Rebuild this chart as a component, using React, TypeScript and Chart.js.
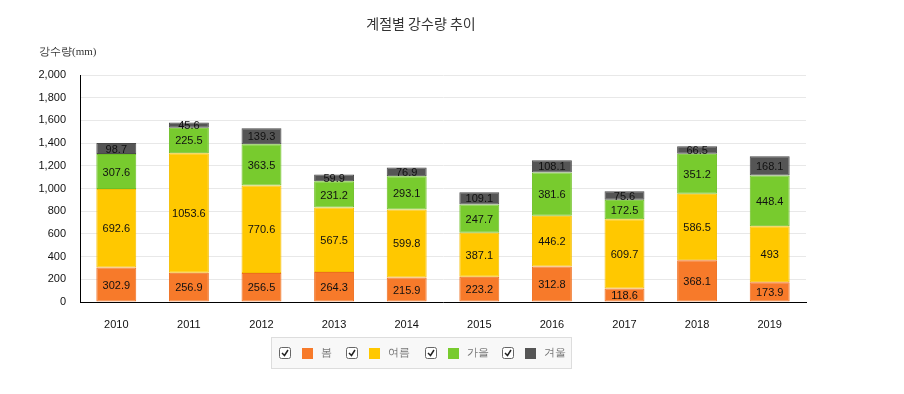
import React, { useEffect, useRef } from "react";
import { Chart, registerables } from "chart.js";

Chart.register(...registerables);

const years = ["2010", "2011", "2012", "2013", "2014", "2015", "2016", "2017", "2018", "2019"];
const spring = [302.9, 256.9, 256.5, 264.3, 215.9, 223.2, 312.8, 118.6, 368.1, 173.9];
const summer = [692.6, 1053.6, 770.6, 567.5, 599.8, 387.1, 446.2, 609.7, 586.5, 493];
const autumn = [307.6, 225.5, 363.5, 231.2, 293.1, 247.7, 381.6, 172.5, 351.2, 448.4];
const winter = [98.7, 45.6, 139.3, 59.9, 76.9, 109.1, 108.1, 75.6, 66.5, 168.1];
const seriesNames = ["봄", "여름", "가을", "겨울"];
const seriesColors = ["#F77A2A", "#FFC800", "#78CB2E", "#555555"];
const seriesBorders = ["#EE6E1E", "#F5BE00", "#6EBF26", "#4A4A4A"];

const TITLE = "계절별 강수량 추이";
const Y_TITLE = "강수량(mm)";
const SANS = "Arial, 'Liberation Sans', 'Noto Sans CJK KR', sans-serif";

const overlayPlugin = {
  id: "overlay",
  afterDatasetsDraw(chart: any) {
    const ctx = chart.ctx;
    ctx.save();
    ctx.font = "11px " + SANS;
    ctx.fillStyle = "#111";
    ctx.textAlign = "center";
    ctx.textBaseline = "middle";
    chart.data.datasets.forEach((ds: any, di: number) => {
      const meta = chart.getDatasetMeta(di);
      meta.data.forEach((bar: any, i: number) => {
        const y = (bar.y + bar.base) / 2;
        ctx.fillText(String(ds.data[i]), bar.x, y + 1);
      });
    });
    ctx.restore();
  },
  afterDraw(chart: any) {
    const ctx = chart.ctx;
    ctx.save();
    // title
    ctx.font = "14px 'Noto Sans CJK KR', sans-serif";
    ctx.fillStyle = "#333";
    ctx.textAlign = "center";
    ctx.textBaseline = "middle";
    ctx.fillText(TITLE, 421, 24);
    // y title
    ctx.font = "11px serif";
    ctx.textAlign = "left";
    ctx.fillStyle = "#333";
    ctx.fillText(Y_TITLE, 39, 52);
    // legend box
    ctx.fillStyle = "#F8F8F8";
    ctx.fillRect(271.5, 337.5, 300, 31);
    ctx.strokeStyle = "#DDDDDD";
    ctx.lineWidth = 1;
    ctx.strokeRect(271.5, 337.5, 300, 31);
    const cbX = [279, 346, 425, 502];
    const cy = 353;
    seriesNames.forEach((name, k) => {
      const x = cbX[k];
      // checkbox
      ctx.fillStyle = "#fff";
      ctx.strokeStyle = "#666";
      ctx.lineWidth = 1;
      ctx.beginPath();
      (ctx as any).roundRect(x + 0.5, cy - 5.5, 11, 11, 2);
      ctx.fill();
      ctx.stroke();
      ctx.strokeStyle = "#222";
      ctx.lineWidth = 1.5;
      ctx.beginPath();
      ctx.moveTo(x + 3, cy);
      ctx.lineTo(x + 5.5, cy + 2.5);
      ctx.lineTo(x + 9, cy - 3);
      ctx.stroke();
      // color square
      ctx.fillStyle = seriesColors[k];
      ctx.fillRect(x + 23, cy - 5, 11, 11);
      // text
      ctx.fillStyle = "#777";
      ctx.font = "11px serif";
      ctx.textAlign = "left";
      ctx.fillText(name, x + 42, cy);
    });
    ctx.restore();
  },
};

export default function App() {
  const ref = useRef<HTMLCanvasElement | null>(null);
  useEffect(() => {
    if (!ref.current) return;
    const mk = (label: string, data: number[], k: number) => ({
      label,
      data,
      backgroundColor: seriesColors[k],
      borderColor: seriesBorders[k],
      borderWidth: 1,
      borderSkipped: false,
      barPercentage: 0.55,
      categoryPercentage: 1,
    });
    const chart = new Chart(ref.current, {
      type: "bar",
      data: {
        labels: years,
        datasets: [
          mk(seriesNames[0], spring, 0),
          mk(seriesNames[1], summer, 1),
          mk(seriesNames[2], autumn, 2),
          mk(seriesNames[3], winter, 3),
        ],
      },
      options: {
        animation: false,
        responsive: false,
        maintainAspectRatio: false,
        layout: { padding: { left: 0, right: 98, top: 75, bottom: 0 } },
        plugins: {
          legend: { display: false },
          title: { display: false },
          tooltip: { enabled: false },
        },
        scales: {
          x: {
            stacked: true,
            grid: { display: false, drawTicks: false },
            border: { display: true, color: "#000", width: 1 },
            ticks: { color: "#111", font: { size: 11, family: SANS }, padding: 16 },
            afterFit: (s: any) => { s.height = 92; },
          },
          y: {
            stacked: true,
            min: 0,
            max: 2000,
            grid: { color: "#E8E8E8", drawTicks: false },
            border: { display: true, color: "#000", width: 1 },
            ticks: {
              stepSize: 200,
              color: "#111",
              font: { size: 11, family: SANS },
              padding: 14,
              callback: (v: any) => Number(v).toLocaleString("en-US"),
            },
            afterFit: (s: any) => { s.width = 80; },
          },
        },
      },
      plugins: [overlayPlugin],
    });
    return () => chart.destroy();
  }, []);
  return (
    <div style={{ position: "fixed", left: 0, top: 0, width: 904, height: 394, background: "#fff" }}>
      <canvas ref={ref} width={904} height={394} style={{ width: 904, height: 394 }} />
    </div>
  );
}
